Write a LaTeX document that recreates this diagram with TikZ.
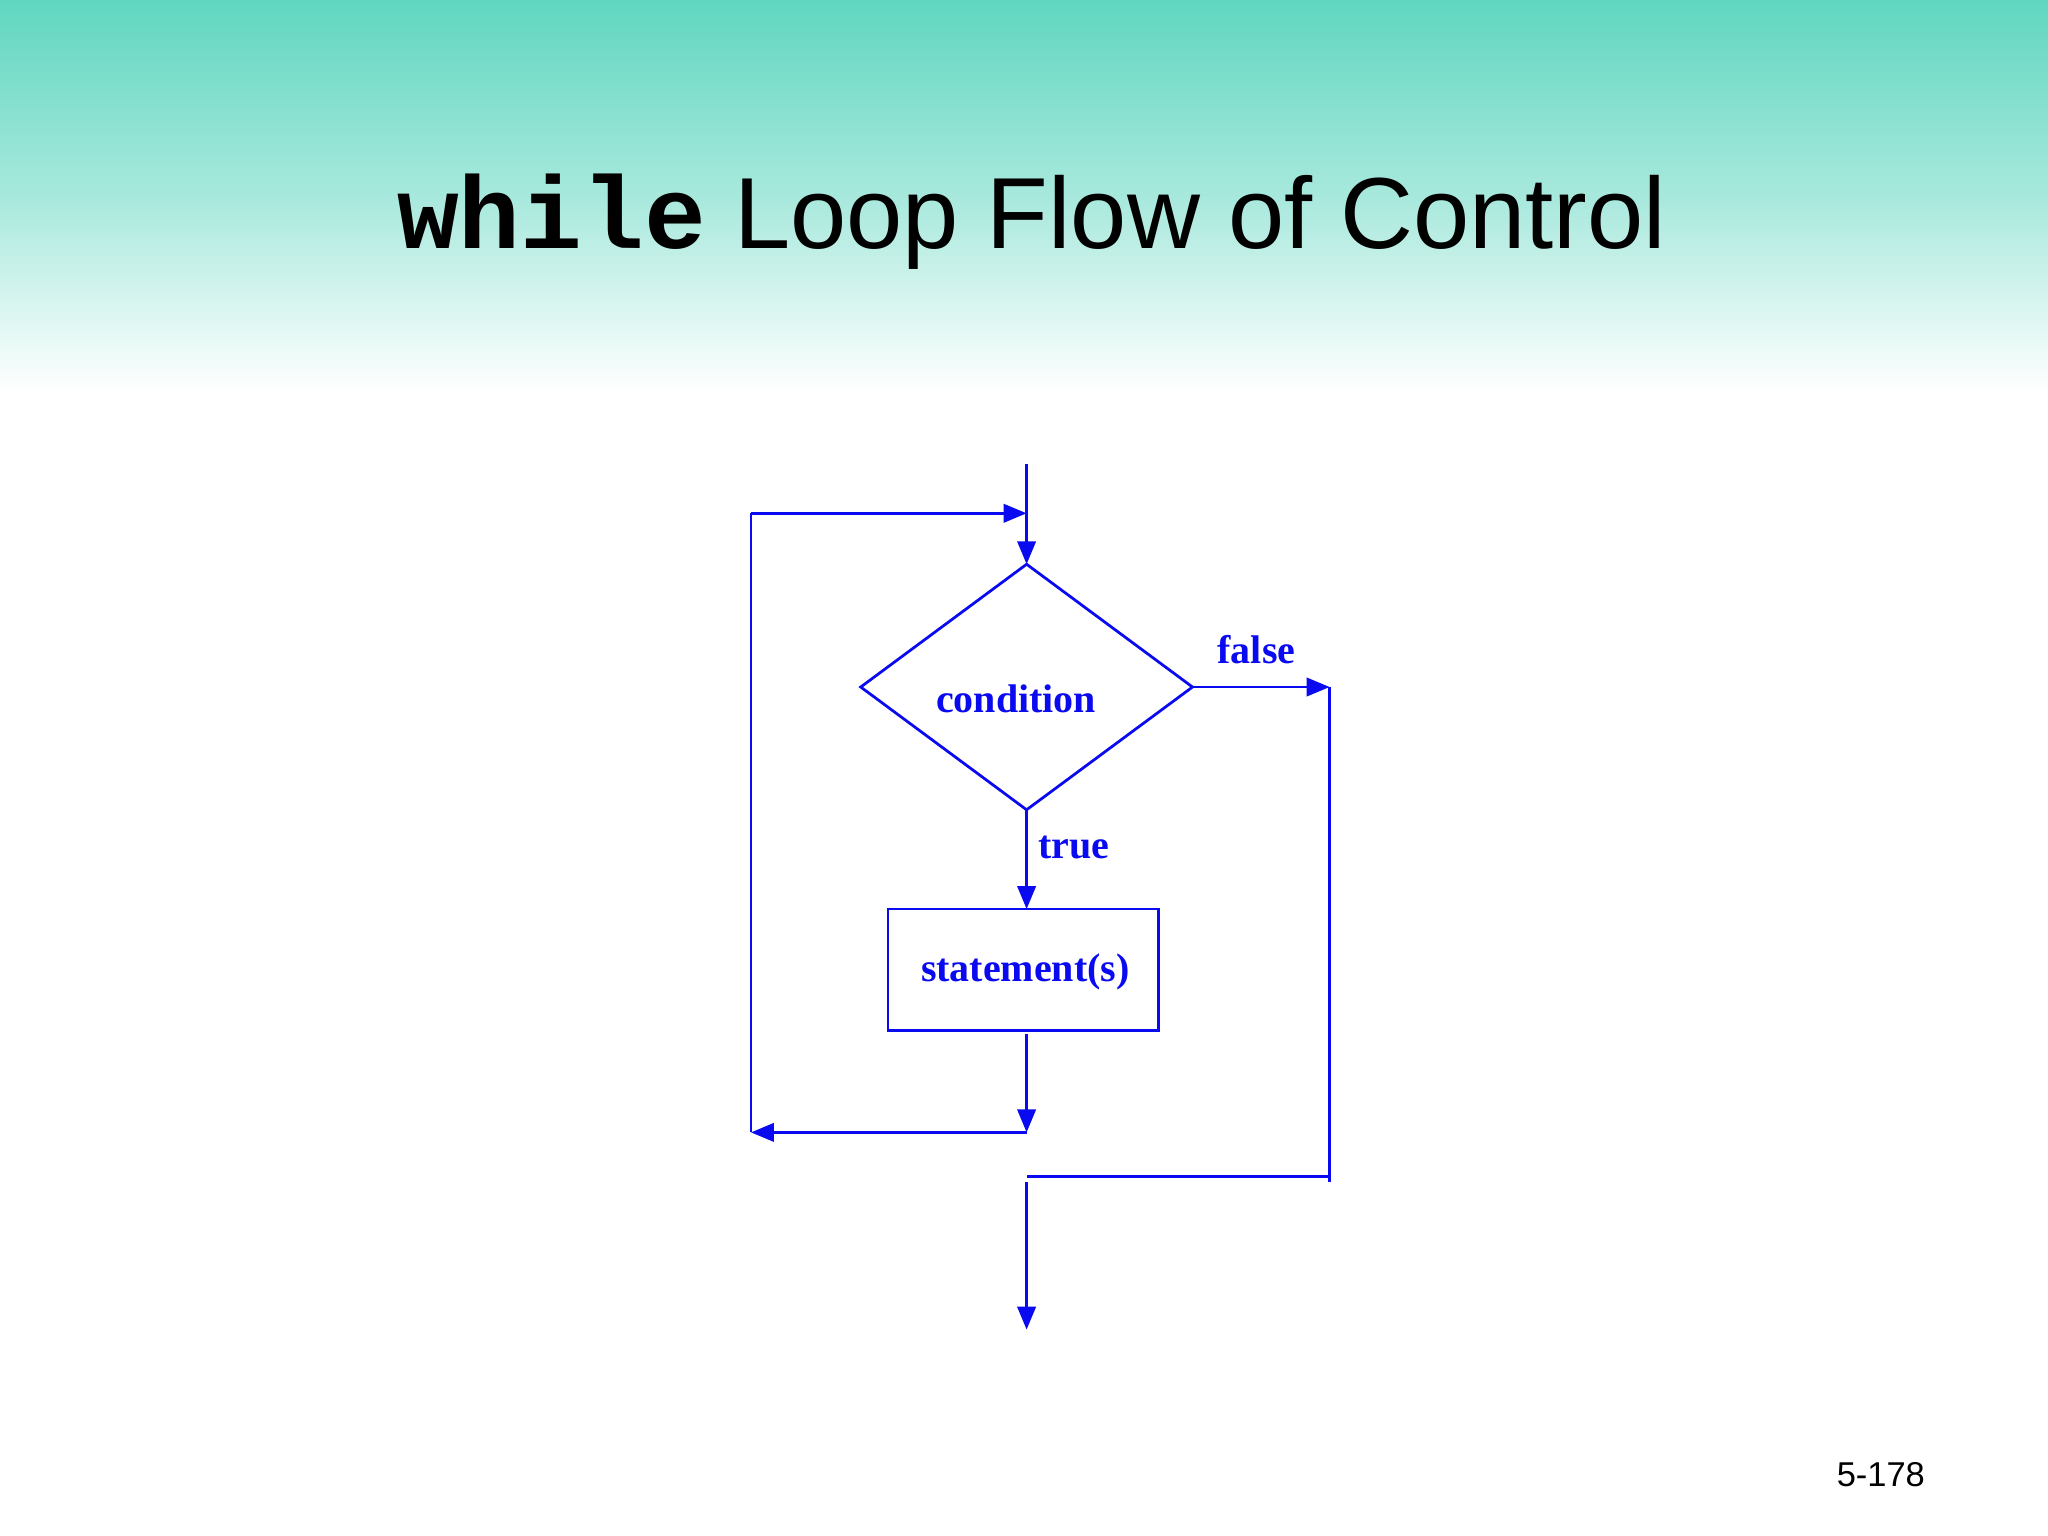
\documentclass[tikz,border=0pt]{standalone}
\usepackage{fontspec}
\setmainfont{Liberation Serif}
\newfontfamily\sansf{Liberation Sans}
\newfontfamily\monof{Liberation Mono}
\usetikzlibrary{arrows.meta}
\definecolor{tealtop}{RGB}{96,214,192}
\definecolor{fb}{RGB}{10,10,240}
\tikzset{flow/.style={draw=fb,line width=0.6pt},
  arr/.style={flow,-{Triangle[length=5pt,width=4pt]}},
  lbl/.style={text=fb,font=\bfseries\fontsize{8.7}{10}\selectfont}}
\begin{document}
\begin{tikzpicture}[x=0.01cm,y=-0.01cm]
\useasboundingbox (0,0) rectangle (1568,1176);
\fill[white] (0,0) rectangle (1568,1176);
\shade[top color=tealtop,bottom color=white,middle color=tealtop!55] (0,0) rectangle (1568,300);
\node[anchor=base,inner sep=0] (title) at (790,190) {{\monof\bfseries\fontsize{22.4}{26}\selectfont while}{\sansf\fontsize{22}{26}\selectfont\ Loop Flow of Control}};
\coordinate (dt) at (786,432); \coordinate (dl) at (659,526); \coordinate (dr) at (913,526); \coordinate (db) at (786,620);
\draw[flow] (dt)--(dl)--(db)--(dr)--cycle;
\node[lbl] (ct) at (778,535) {condition};
\node[flow,minimum width=2.07cm,minimum height=0.93cm] (stmt) at (783.5,742.5) {};
\node[lbl] (st) at (785,744) {statement(s)};
\node[lbl] (tl) at (822,649) {true};
\node[lbl] (fl) at (962,497) {false};
\coordinate (in) at (786,355);
\coordinate (lt) at (575,393); \coordinate (jt) at (786,393);
\coordinate (sb) at (786,792); \coordinate (jb) at (786,867); \coordinate (lb) at (575,867);
\coordinate (fr) at (1018,526); \coordinate (frb) at (1018,905); \coordinate (fj) at (786,901);
\coordinate (ft) at (786,905); \coordinate (out) at (786,1018);
\draw[arr] (in)--(dt);
\draw[arr] (db)--(786,696);
\draw[arr] (sb)--(jb);
\draw[arr] (jb)--(lb);
\draw[flow] (lb)--(lt);
\draw[arr] (lt)--(jt);
\draw[arr] (dr)--(fr);
\draw[flow] (fr)--(frb);
\draw[flow] (1018,901)--(fj);
\draw[arr] (ft)--(out);
\node[font=\sansf\fontsize{7.5}{9}\selectfont] (pg) at (1440,1129) {5-178};
\end{tikzpicture}
\end{document}
